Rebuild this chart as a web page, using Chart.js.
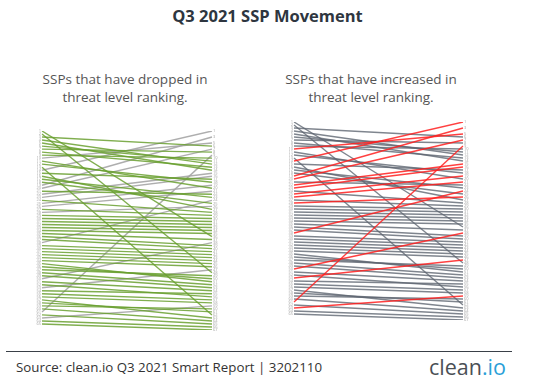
<!DOCTYPE html>
<html>
<head>
<meta charset="utf-8">
<script src="https://cdn.jsdelivr.net/npm/chart.js@4"></script>
<style>
  body { margin: 0; width: 535px; height: 387px; background: #fff; position: relative; overflow: hidden; font-family: "Open Sans", sans-serif; }
  .titulo { position: absolute; top: 4px; left: 0; width: 535px; text-align: center; font-weight: 700; font-size: 16.5px; color: #2e3640; }
  .sub { position: absolute; top: 70px; text-align: center; font-size: 13.5px; line-height: 18px; color: #555; }
  .painel { position: absolute; }
  .linha { position: absolute; left: 6px; top: 351px; width: 506px; height: 1px; background: #3a4048; }
  .fonte { position: absolute; left: 16px; top: 358px; font-size: 13.3px; color: #333; }
  .logo { position: absolute; left: 429px; top: 352px; font-size: 21.5px; color: #4a4f55; }
  .logo span { color: #2a9fd8; }
</style>
</head>
<body>
<div class="titulo">Q3 2021 SSP Movement</div>
<div class="sub" style="left:25px;width:200px;">SSPs that have dropped in<br>threat level ranking.</div>
<div class="sub" style="left:271px;width:200px;">SSPs that have increased in<br>threat level ranking.</div>
<div class="painel" style="left:30px;top:128px;width:196px;height:205px;"><canvas id="graficoQueda"></canvas></div>
<div class="painel" style="left:280px;top:119px;width:197px;height:204px;"><canvas id="graficoAlta"></canvas></div>
<div class="linha"></div>
<div class="fonte">Source: clean.io Q3 2021 Smart Report | 3202110</div>
<div class="logo">clean<span>.io</span></div>
<script>
// posição no ranking de ameaça (Q2 -> Q3), uma entrada por SSP
const rankAnterior = [1, 2, 3, 4, 5, 6, 7, 8, 9, 10, 11, 12, 13, 14, 15, 16, 17, 18, 19, 20,
    21, 22, 23, 24, 25, 26, 27, 28, 29, 30, 31, 32, 33, 34, 35, 36, 37, 38, 39, 40,
    41, 42, 43, 44, 45, 46, 47, 48, 49, 50, 51, 52, 53, 54, 55, 56, 57, 58, 59, 60,
    61, 62, 63, 64, 65];
const rankAtual = [36, 48, 6, 12, 14, 11, 8, 13, 10, 5, 20, 18, 62, 1, 17, 27, 23, 25, 3, 7,
    22, 15, 16, 28, 19, 21, 29, 26, 30, 31, 32, 33, 34, 35, 37, 39, 40, 24, 41, 42,
    43, 44, 45, 46, 51, 50, 49, 52, 53, 38, 54, 56, 47, 55, 57, 58, 63, 61, 60, 64,
    9, 65, 59, 66, 67];
const periodos = ["Q2", "Q3"];

// rótulos minúsculos nas duas pontas de cada linha
const rotulosPontas = {
    id: "rotulosPontas",
    afterDatasetsDraw(chart) {
        const ctx = chart.ctx;
        const y = chart.scales.y;
        const area = chart.chartArea;
        ctx.save();
        ctx.font = "4px 'Open Sans'";
        ctx.fillStyle = "#a8a8a8";
        ctx.textBaseline = "middle";
        rankAnterior.forEach((r, i) => {
            ctx.textAlign = "right";
            ctx.fillText(String(r), area.left - 1, y.getPixelForValue(r));
            ctx.textAlign = "left";
            ctx.fillText(String(rankAtual[i]), area.right + 1, y.getPixelForValue(rankAtual[i]));
        });
        ctx.restore();
    }
};

function montarPainel(id, destaque, corDestaque, corResto, padding) {
    const linhas = rankAnterior.map((r, i) => {
        const marcado = destaque(r, rankAtual[i]);
        return {
            label: "SSP " + r,
            data: [r, rankAtual[i]],
            borderColor: marcado ? corDestaque : corResto,
            borderWidth: 1.4,
            pointRadius: 0,
            tension: 0,
            order: marcado ? 0 : 1
        };
    });
    return new Chart(document.getElementById(id), {
        type: "line",
        data: { labels: periodos, datasets: linhas },
        options: {
            responsive: true,
            maintainAspectRatio: false,
            animation: false,
            events: [],
            layout: { padding: padding },
            plugins: { legend: { display: false }, tooltip: { enabled: false } },
            scales: {
                x: { display: false },
                y: { display: false, reverse: true, min: 1, max: 67 }
            }
        },
        plugins: [rotulosPontas]
    });
}

montarPainel("graficoQueda", (a, b) => b > a, "rgba(106,160,48,0.85)", "rgba(165,165,165,0.9)",
    { left: 12, right: 14, top: 3, bottom: 3 });
montarPainel("graficoAlta", (a, b) => b < a, "rgba(255,30,30,0.85)", "rgba(95,103,114,0.8)",
    { left: 14, right: 14, top: 3, bottom: 3 });
</script>
</body>
</html>
